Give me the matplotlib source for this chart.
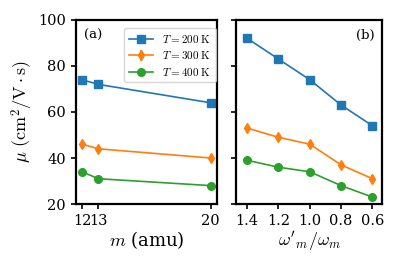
import matplotlib
matplotlib.use('Agg')
import matplotlib.pyplot as plt

plt.rcParams['font.family'] = 'DejaVu Serif'
plt.rcParams['mathtext.fontset'] = 'cm'

# panel (a): mobility vs mass
mass = [12, 13, 20]
mu_m_200 = [74, 72, 64]
mu_m_300 = [46, 44, 40]
mu_m_400 = [34, 31, 28]

# panel (b): mobility vs frequency ratio
ratio = [1.4, 1.2, 1.0, 0.8, 0.6]
mu_w_200 = [92, 83, 74, 63, 54]
mu_w_300 = [53, 49, 46, 37, 31]
mu_w_400 = [39, 36, 34, 28, 23]

labels = [r'$T = 200\ \mathrm{K}$', r'$T = 300\ \mathrm{K}$', r'$T = 400\ \mathrm{K}$']
colors = ['#1f77b4', '#ff7f0e', '#2ca02c']
markers = ['s', 'd', 'o']

fig = plt.figure(figsize=(3.99, 2.66), dpi=100)
ax1 = fig.add_axes([0.19, 0.233, 0.354, 0.692])
ax2 = fig.add_axes([0.592, 0.233, 0.365, 0.692], sharey=ax1)

for ys, c, mk, lab in zip([mu_m_200, mu_m_300, mu_m_400], colors, markers, labels):
    yerr = 1.4 if mk == 'd' else None
    ax1.errorbar(mass, ys, yerr=yerr, color=c, marker=mk, ms=5.5, lw=1.2, label=lab)
for ys, c, mk in zip([mu_w_200, mu_w_300, mu_w_400], colors, markers):
    yerr = 1.4 if mk == 'd' else None
    ax2.errorbar(ratio, ys, yerr=yerr, color=c, marker=mk, ms=5.5, lw=1.2)

ax1.set_ylim(20, 100)
ax1.set_yticks([20, 40, 60, 80, 100])
ax1.set_xlim(11.6, 20.4)
ax1.set_xticks(mass)
ax2.set_xlim(1.47, 0.54)
ax2.set_xticks(ratio)
ax2.tick_params(labelleft=False)

for ax in (ax1, ax2):
    for s in ax.spines.values():
        s.set_linewidth(1.6)
    ax.tick_params(labelsize=10.5, width=1.2, length=3.5)

ax1.set_ylabel(r'$\mu\ (\mathrm{cm}^2/\mathrm{V\cdot s})$', fontsize=13, labelpad=2)
ax1.set_xlabel(r'$m$ (amu)', fontsize=13, labelpad=1)
ax2.set_xlabel(r"$\omega'_m/\omega_m$", fontsize=13, labelpad=1)

ax1.text(0.06, 0.95, '(a)', transform=ax1.transAxes, fontsize=9.5, va='top')
ax2.text(0.95, 0.95, '(b)', transform=ax2.transAxes, fontsize=9.5, va='top', ha='right')

ax1.legend(loc='upper right', fontsize=8, handlelength=2.2, borderpad=0.4,
           labelspacing=0.4, bbox_to_anchor=(1.03, 0.985))

fig.savefig('out.png', dpi=100)
